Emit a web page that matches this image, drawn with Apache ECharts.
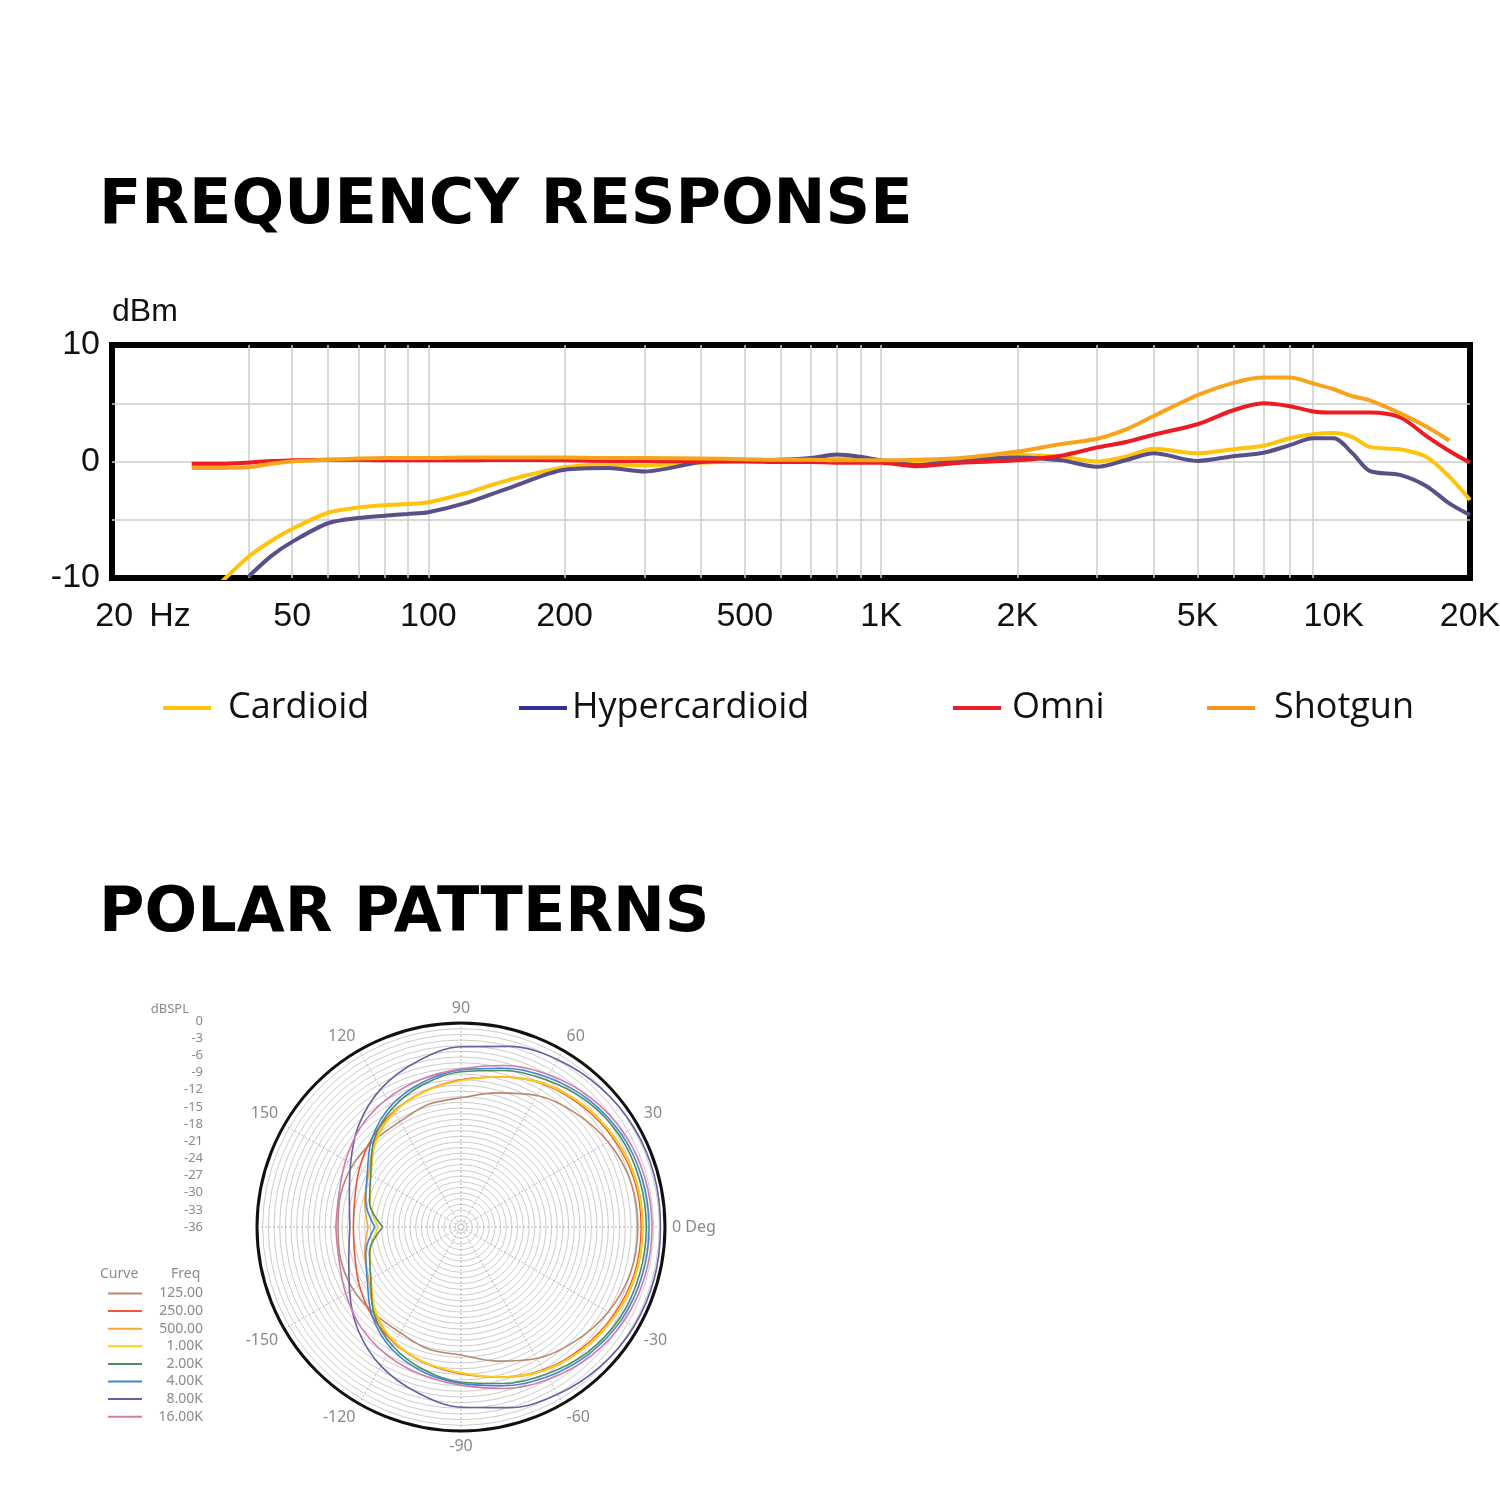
<!DOCTYPE html>
<html><head><meta charset="utf-8">
<script src="https://cdn.jsdelivr.net/npm/echarts@6/dist/echarts.min.js"></script>
<style>html,body{margin:0;padding:0;background:#fff}#c{width:1500px;height:1500px}</style>
</head><body><div id="c"></div>
<script>
// ---------- Frequency response data ----------
const freqs = [30, 35, 40, 45, 50, 60, 70, 80, 90, 100, 120, 150, 200, 250, 300, 400, 500, 600, 700, 800, 900, 1000, 1200, 1500, 2000, 2500, 3000, 3500, 4000, 5000, 6000, 7000, 8000, 9000, 10000, 11000, 12000, 14000, 16000, 18000, 20000];
const cardioid = [null, -10.3, -8.2, -6.8, -5.8, -4.4, -3.95, -3.75, -3.65, -3.5, -2.75, -1.6, -0.5, -0.25, -0.35, -0.1, 0.05, 0.1, 0.15, 0.25, 0.2, 0.05, -0.1, 0.1, 0.55, 0.4, 0.0, 0.45, 1.1, 0.7, 1.05, 1.35, 2.0, 2.35, 2.45, 2.1, 1.25, 1.05, 0.4, -1.3, -3.3];
const hypercardioid = [null, null, -9.9, -8.1, -6.9, -5.3, -4.85, -4.65, -4.5, -4.35, -3.6, -2.3, -0.7, -0.55, -0.85, -0.05, 0.1, 0.15, 0.3, 0.6, 0.4, 0.1, -0.3, 0.1, 0.35, 0.1, -0.45, 0.15, 0.7, 0.05, 0.45, 0.75, 1.4, 2.0, 2.0, 0.7, -0.8, -1.15, -2.1, -3.6, -4.6];
const omni = [-0.2, -0.2, -0.1, 0.05, 0.1, 0.15, 0.15, 0.1, 0.1, 0.1, 0.1, 0.15, 0.1, 0.05, 0.05, 0.0, 0.0, -0.05, -0.05, -0.1, -0.1, -0.1, -0.4, -0.1, 0.1, 0.5, 1.2, 1.7, 2.3, 3.2, 4.4, 5.0, 4.75, 4.3, 4.2, 4.2, 4.2, 3.8, 2.2, 0.9, -0.1];
const shotgun = [-0.55, -0.55, -0.5, -0.2, 0.0, 0.15, 0.25, 0.3, 0.3, 0.3, 0.35, 0.35, 0.35, 0.3, 0.3, 0.25, 0.2, 0.15, 0.15, 0.1, 0.1, 0.1, 0.15, 0.3, 0.85, 1.5, 1.95, 2.8, 3.9, 5.7, 6.75, 7.2, 7.2, 6.7, 6.2, 5.6, 5.25, 4.15, 3.0, 1.8, null];
const freqLabelValues = [20, 50, 100, 200, 500, 1000, 2000, 5000, 10000, 20000];
const freqGridValues = [30, 40, 50, 60, 70, 80, 90, 100, 200, 300, 400, 500, 600, 700, 800, 900, 1000, 2000, 3000, 4000, 5000, 6000, 7000, 8000, 9000, 10000];

// ---------- Polar pattern data (dB, angle in degrees) ----------
const polarAngles = [-180, -165, -150, -135, -120, -105, -90, -75, -60, -45, -30, -15, 0, 15, 30, 45, 60, 75, 90, 105, 120, 135, 150, 165, 180];
const p125 = [-14.3, -14.0, -14.0, -14.4, -14.5, -13.7, -13.4, -11.5, -9.2, -7.5, -6.0, -5.0, -4.8, -5.0, -6.0, -7.5, -9.2, -11.5, -13.2, -13.6, -14.5, -14.4, -14.0, -14.0, -14.3];
const p250 = [-17.0, -16.6, -15.3, -13.8, -12.4, -11.2, -10.1, -8.6, -6.9, -5.8, -4.9, -4.3, -4.2, -4.3, -4.9, -5.8, -6.9, -8.6, -10.0, -11.2, -12.4, -13.8, -15.3, -16.6, -17.0];
const p500 = [-19.6, -18.4, -17.2, -14.5, -12.5, -11.2, -10.2, -8.5, -6.7, -5.5, -4.6, -4.0, -3.9, -4.0, -4.6, -5.5, -6.7, -8.5, -10.1, -11.2, -12.5, -14.5, -17.2, -18.4, -19.6];
const p1k = [-21.4, -19.4, -17.7, -14.8, -12.6, -11.3, -10.3, -8.6, -6.8, -5.6, -4.7, -4.1, -4.0, -4.1, -4.7, -5.6, -6.8, -8.6, -10.2, -11.3, -12.6, -14.8, -17.7, -19.4, -21.4];
const p2k = [-22.2, -19.3, -17.6, -14.3, -11.8, -10.0, -8.6, -7.4, -6.0, -4.6, -3.7, -3.4, -3.3, -3.4, -3.7, -4.6, -6.0, -7.4, -8.6, -10.0, -11.8, -14.3, -17.6, -19.3, -22.2];
const p4k = [-20.8, -18.6, -16.9, -13.8, -11.3, -9.6, -8.4, -7.0, -5.5, -4.2, -3.3, -2.9, -2.8, -2.9, -3.3, -4.2, -5.5, -7.0, -8.3, -9.6, -11.3, -13.8, -16.9, -18.6, -20.8];
const p8k = [-16.4, -15.5, -13.3, -10.3, -7.7, -5.8, -4.2, -3.0, -1.9, -1.2, -0.8, -0.7, -0.8, -0.7, -0.8, -1.2, -1.9, -3.0, -4.2, -5.8, -7.8, -10.5, -13.5, -15.6, -16.4];
const p16k = [-13.9, -13.7, -12.5, -11.0, -9.9, -9.0, -8.1, -6.5, -5.0, -3.7, -2.8, -2.4, -2.3, -2.4, -2.8, -3.7, -5.0, -6.5, -8.1, -9.0, -9.9, -11.0, -12.5, -13.7, -13.9];
const polarNames = ['125.00', '250.00', '500.00', '1.00K', '2.00K', '4.00K', '8.00K', '16.00K'];
const polarSeriesValues = [p125, p250, p500, p1k, p2k, p4k, p8k, p16k];
const polarColors = ['#B8896F', '#EC5630', '#F8A638', '#F9D21C', '#4F8C60', '#3F86D6', '#6A5FA2', '#CF7CAA'];

// ---------- Styling ----------
const tickFont = '"Liberation Sans", Arial, sans-serif';
const legendFont = '"Open Sans", sans-serif';
const titleFont = '"DejaVu Sans", sans-serif';
const smallFont = '"Noto Sans", "Open Sans", sans-serif';
const smallGray = '#8a8a8a';

const freqSeriesDefs = [
  { name: 'Cardioid', values: cardioid, color: '#FFC30D', icon: '#FFC30D', left: 163, pad: 12 },
  { name: 'Hypercardioid', values: hypercardioid, color: '#5A4F86', icon: '#2E3192', left: 519, pad: 0 },
  { name: 'Omni', values: omni, color: '#EC1C24', icon: '#EC1C24', left: 953, pad: 6 },
  { name: 'Shotgun', values: shotgun, color: '#F8A31B', icon: '#F7941D', left: 1207, pad: 14 }
];

const series = [];
freqSeriesDefs.forEach(d => {
  series.push({
    name: d.name, type: 'line', xAxisIndex: 0, yAxisIndex: 0,
    data: freqs.map((f, i) => [f, d.values[i]]),
    symbol: 'none', smooth: 0.3, connectNulls: false,
    color: d.color, lineStyle: { color: d.color, width: 4 }, z: 3
  });
});
polarNames.forEach((n, k) => {
  series.push({
    name: n, type: 'line', coordinateSystem: 'polar', polarIndex: 0,
    data: polarAngles.map((a, i) => [polarSeriesValues[k][i], a]),
    symbol: 'none', smooth: 0.35,
    color: polarColors[k], lineStyle: { color: polarColors[k], width: 1.6 }, z: 3
  });
});

const legends = freqSeriesDefs.map(d => ({
  left: d.left, top: 690, padding: 0, icon: 'rect', itemWidth: 48, itemHeight: 4,
  data: [{ name: d.name, itemStyle: { color: d.icon } }],
  selectedMode: false,
  textStyle: { fontFamily: legendFont, fontSize: 36, color: '#111', padding: [0, 0, 0, d.pad] }
}));
legends.push({
  orient: 'vertical', left: 108, top: 1285, padding: 0, icon: 'rect', itemWidth: 34, itemHeight: 2, itemGap: 0.6,
  selectedMode: false,
  data: polarNames.map((n, k) => ({ name: n, itemStyle: { color: polarColors[k] } })),
  formatter: '{a|{name}}',
  textStyle: { fontFamily: smallFont, fontSize: 14, color: smallGray, lineHeight: 17,
    rich: { a: { width: 56, align: 'right', fontFamily: smallFont, fontSize: 14, color: smallGray, lineHeight: 17 } } }
});

const option = {
  backgroundColor: '#fff',
  animation: false,
  title: [
    { text: 'FREQUENCY RESPONSE', left: 99, top: 176, padding: 0, textStyle: { fontFamily: titleFont, fontWeight: 'bold', fontSize: 62, color: '#000' } },
    { text: 'POLAR PATTERNS', left: 99, top: 884, padding: 0, textStyle: { fontFamily: titleFont, fontWeight: 'bold', fontSize: 62, color: '#000' } },
    { text: 'Curve', left: 100, top: 1267, padding: 0, textStyle: { fontFamily: smallFont, fontSize: 14, fontWeight: 'normal', color: smallGray } },
    { text: 'Freq', left: 171, top: 1267, padding: 0, textStyle: { fontFamily: smallFont, fontSize: 14, fontWeight: 'normal', color: smallGray } }
  ],
  legend: legends,
  grid: [
    { left: 112, top: 345, width: 1358, height: 233, show: true, borderColor: '#000', borderWidth: 6, backgroundColor: 'transparent', containLabel: false, outerBoundsMode: 'none' },
    { left: 205, top: 1021, width: 1, height: 206, show: false, outerBoundsMode: 'none' }
  ],
  xAxis: [
    { type: 'log', logBase: 10, min: 20, max: 20000, gridIndex: 0,
      axisLine: { show: false },
      axisTick: { show: false, customValues: freqGridValues },
      axisLabel: { customValues: freqLabelValues, margin: 22, fontFamily: tickFont, fontSize: 34, color: '#111',
        formatter: v => { const r = Math.round(v); if (r === 20) return '{s| }{n|20}{h|Hz}'; return r >= 1000 ? (r / 1000) + 'K' : String(r); },
        rich: { s: { width: 62 }, n: { fontFamily: tickFont, fontSize: 34, color: '#111' }, h: { fontFamily: tickFont, fontSize: 34, color: '#111', padding: [0, 0, 0, 16] } } },
      splitLine: { show: true, showMinLine: false, showMaxLine: false, lineStyle: { color: '#cdcdcd', width: 1.5 } } },
    { type: 'value', gridIndex: 1, show: false, min: 0, max: 1 }
  ],
  yAxis: [
    { type: 'value', gridIndex: 0, min: -10, max: 10, interval: 5,
      axisLine: { show: false }, axisTick: { show: false },
      axisLabel: { margin: 12, fontFamily: tickFont, fontSize: 34, color: '#111', formatter: v => (v % 10 === 0 ? String(v) : '') },
      splitLine: { show: true, showMinLine: false, showMaxLine: false, lineStyle: { color: '#cdcdcd', width: 1.5 } },
      name: 'dBm', nameLocation: 'end', nameGap: 17,
      nameTextStyle: { fontFamily: tickFont, fontSize: 32, color: '#111', align: 'left' } },
    { type: 'value', gridIndex: 1, min: -36, max: 0, interval: 3,
      axisLine: { show: false }, axisTick: { show: false }, splitLine: { show: false },
      axisLabel: { margin: 2, fontFamily: smallFont, fontSize: 13, color: smallGray },
      name: 'dBSPL', nameLocation: 'end', nameGap: 5,
      nameTextStyle: { fontFamily: smallFont, fontSize: 13, color: smallGray, align: 'right', padding: [0, 16, 0, 0] } }
  ],
  polar: { center: [461, 1227], radius: 204 },
  angleAxis: { type: 'value', min: -180, max: 180, interval: 30, startAngle: 180, clockwise: false,
    axisLine: { lineStyle: { color: '#111', width: 3 } }, axisTick: { show: false },
    axisLabel: { margin: 7, fontFamily: smallFont, fontSize: 16, color: smallGray,
      formatter: v => (v === -180 ? '' : (v === 0 ? '0 Deg' : String(v))) },
    splitLine: { lineStyle: { color: '#b5b5b5', width: 1, type: [2, 2] } } },
  radiusAxis: { type: 'value', min: -36, max: 0, interval: 1,
    axisLine: { show: false }, axisTick: { show: false }, axisLabel: { show: false },
    splitLine: { lineStyle: { color: '#cccccc', width: 1 } } },
  series: series
};

const chart = echarts.init(document.getElementById('c'), null, { renderer: 'canvas', width: 1500, height: 1500 });
chart.setOption(option);
</script>
</body></html>
